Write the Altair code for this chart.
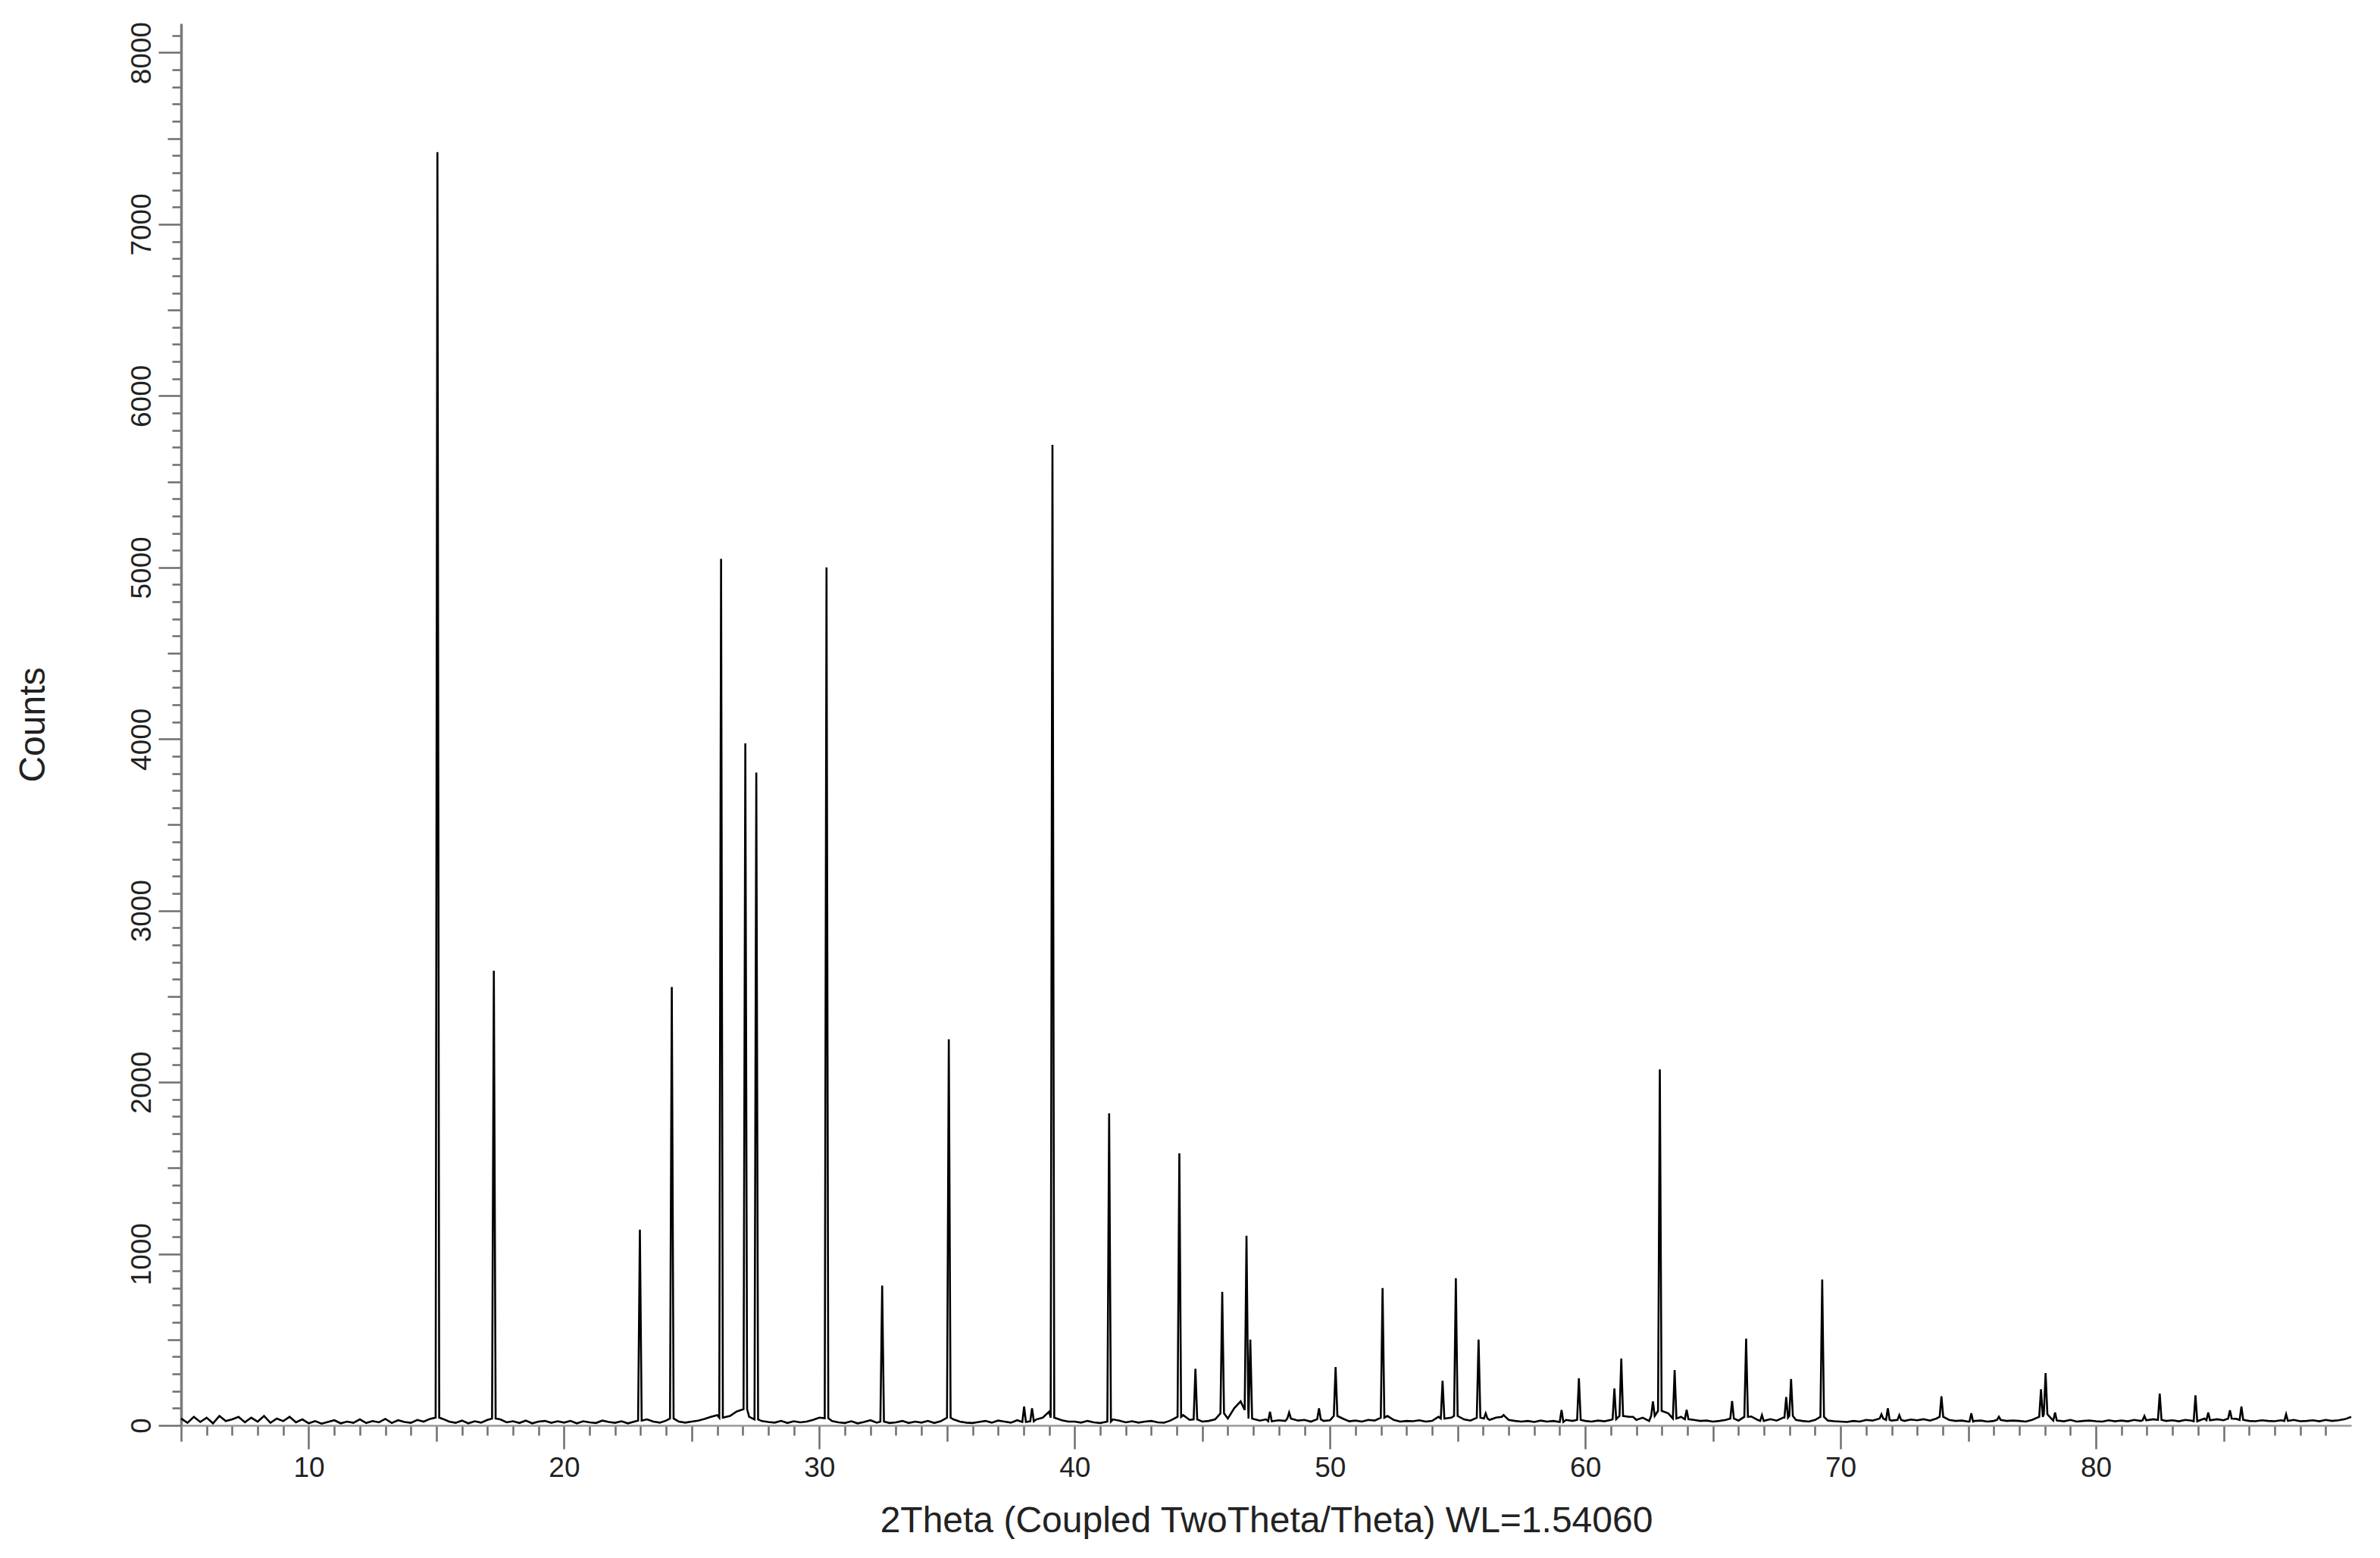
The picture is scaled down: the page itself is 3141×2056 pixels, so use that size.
import altair as alt
import pandas as pd

# Background counts on a 0.25 degree grid from 5.00 to 90.00
bg_start = 5.0
bg_step = 0.25
bg_counts = [
    40, 15, 50, 20, 45, 12, 55, 25, 35, 50, 18, 45, 22, 55, 15, 40, 25, 50, 18, 35,
    12, 25, 10, 20, 30, 12, 22, 15, 35, 14, 25, 18, 38, 14, 30, 20, 15, 32, 22, 38,
    45, 38, 22, 15, 28, 12, 24, 16, 32, 40, 35, 18, 24, 14, 28, 12, 22, 26, 15, 24,
    16, 26, 12, 24, 18, 14, 28, 20, 15, 24, 12, 22, 28, 35, 22, 16, 28, 40, 22, 16,
    22, 28, 38, 50, 60, 45, 55, 80, 95, 50, 35, 25, 20, 16, 26, 14, 24, 18, 22, 32,
    45, 42, 25, 18, 14, 24, 12, 20, 30, 16, 22, 14, 18, 26, 14, 22, 16, 26, 14, 24,
    45, 35, 22, 16, 14, 20, 26, 16, 28, 22, 16, 30, 20, 24, 35, 45, 80, 45, 30, 22,
    22, 16, 26, 18, 14, 22, 35, 28, 18, 24, 16, 22, 26, 18, 16, 28, 50, 60, 32, 35,
    22, 26, 35, 70, 40, 100, 140, 90, 40, 28, 35, 24, 30, 26, 40, 28, 32, 22, 36, 26,
    30, 55, 40, 24, 28, 22, 32, 28, 45, 55, 32, 22, 26, 24, 30, 22, 26, 50, 40, 45,
    55, 35, 28, 45, 40, 32, 45, 50, 32, 26, 22, 26, 20, 28, 22, 26, 20, 32, 26, 32,
    26, 22, 28, 24, 32, 36, 55, 50, 32, 45, 26, 55, 85, 70, 40, 50, 36, 32, 26, 28,
    22, 26, 32, 40, 28, 50, 52, 32, 26, 36, 28, 45, 55, 32, 26, 22, 32, 50, 28, 24,
    22, 20, 26, 22, 32, 28, 40, 32, 28, 32, 26, 34, 30, 36, 28, 40, 50, 32, 26, 28,
    22, 26, 28, 22, 26, 32, 26, 28, 26, 22, 32, 50, 65, 40, 28, 24, 32, 22, 26, 28,
    24, 22, 30, 24, 28, 24, 32, 26, 30, 36, 32, 26, 30, 24, 32, 28, 24, 40, 30, 36,
    30, 40, 38, 32, 26, 24, 30, 26, 24, 30, 26, 32, 24, 26, 30, 24, 32, 26, 30, 36,
    50,
]

# Diffraction peaks: 2theta position and peak counts
peak_pos = [
    15.04, 17.25, 22.97, 24.22, 26.15, 27.10, 27.53, 30.28, 32.46, 35.07,
    38.02, 38.33, 39.13, 41.35, 44.10, 44.73, 45.78, 46.73, 46.88, 47.65,
    48.40, 49.57, 50.22, 52.06, 54.41, 54.93, 55.82, 56.10, 56.80, 59.07,
    59.75, 61.14, 61.41, 61.80, 62.65, 62.92, 63.50, 63.97, 65.75, 66.30,
    66.92, 67.87, 68.06, 69.28, 71.60, 71.85, 72.30, 73.95, 75.12, 76.20,
    77.85, 78.03, 78.40, 81.90, 82.50, 83.90, 84.40, 85.25, 85.70, 87.45,
]
peak_height = [
    7420, 2650, 1140, 2555, 5050, 3975, 3805, 5000, 815, 2250,
    110, 100, 5715, 1818, 1585, 330, 778, 1105, 500, 80,
    75, 100, 340, 800, 260, 858, 500, 70, 60, 90,
    275, 215, 390, 50, 140, 2075, 322, 90, 142, 505,
    60, 165, 270, 850, 65, 100, 60, 170, 70, 50,
    210, 305, 75, 55, 185, 175, 75, 88, 110, 65,
]

half_foot = 0.07
rows = []
for i, c in enumerate(bg_counts):
    x = bg_start + bg_step * i
    if min(abs(x - p) for p in peak_pos) > 0.12:
        rows.append({"theta": x, "counts": c})
for p, h in zip(peak_pos, peak_height):
    base = bg_counts[int(round((p - bg_start) / bg_step))]
    rows.append({"theta": p - half_foot, "counts": base})
    rows.append({"theta": p, "counts": h})
    rows.append({"theta": p + half_foot, "counts": base})

df = pd.DataFrame(rows).sort_values("theta").reset_index(drop=True)

x_ticks = list(range(5, 90))
y_ticks = list(range(0, 8200, 100))
FONT = "Liberation Sans"

x_axis = alt.Axis(
    values=x_ticks,
    tickSize={"condition": [{"test": "datum.value % 10 === 0", "value": 31},
                            {"test": "datum.value % 5 === 0", "value": 21}],
              "value": 13},
    labelExpr="datum.value % 10 === 0 ? datum.label : ''",
    format="d",
    labelFont=FONT, labelFontSize=37, labelColor="#222222",
    labelPadding=7, labelOverlap=False, labelFlush=False,
    title="2Theta (Coupled TwoTheta/Theta) WL=1.54060",
    titleFont=FONT, titleFontSize=48, titleFontWeight="normal",
    titleColor="#222222", titlePadding=28,
    domainColor="#9a9a9a", domainWidth=2.5,
    tickColor="#6e6e6e", tickWidth=2.5, grid=False,
)

y_axis = alt.Axis(
    values=y_ticks,
    tickSize={"condition": [{"test": "datum.value % 1000 === 0", "value": 30},
                            {"test": "datum.value % 500 === 0", "value": 18}],
              "value": 12},
    labelExpr="datum.value % 1000 === 0 ? datum.label : ''",
    format="d",
    labelAngle=270, labelAlign="center", labelBaseline="bottom",
    labelFont=FONT, labelFontSize=37, labelColor="#222222",
    labelPadding=3, labelOverlap=False, labelFlush=False,
    title="Counts",
    titleFont=FONT, titleFontSize=48, titleFontWeight="normal",
    titleColor="#222222", titlePadding=100, titleAngle=270, titleBaseline="bottom",
    domainColor="#7a7a7a", domainWidth=3.5,
    tickColor="#6e6e6e", tickWidth=2.5, grid=False,
)

chart = alt.Chart(df).mark_line(color="#000000", strokeWidth=2.6).encode(
    x=alt.X("theta:Q", scale=alt.Scale(domain=[5, 90], nice=False, zero=False), axis=x_axis),
    y=alt.Y("counts:Q", scale=alt.Scale(domain=[0, 8170], nice=False), axis=y_axis),
).properties(
    width=2864,
    height=1850,
    autosize=alt.AutoSizeParams(type="none"),
    padding={"left": 231, "top": 23, "right": 30, "bottom": 150},
    background="white",
).configure_view(stroke=None)

chart.save("out.html", embed_options={"renderer": "svg", "actions": False})
